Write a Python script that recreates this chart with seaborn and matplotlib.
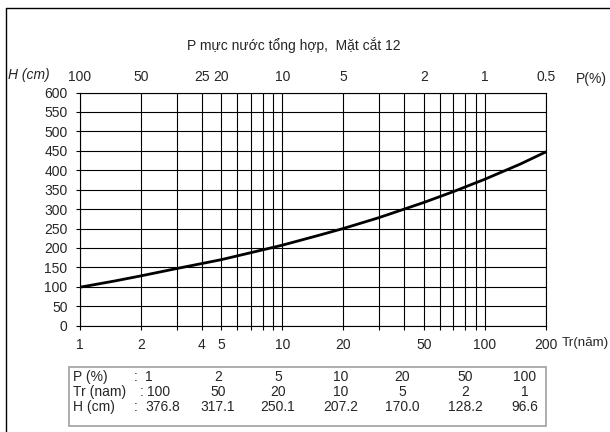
import matplotlib
matplotlib.use("Agg")
import matplotlib.pyplot as plt
import seaborn as sns
import numpy as np
from matplotlib.lines import Line2D
from matplotlib.patches import Rectangle

# ---- data ----
tr_curve = [1, 1.5, 2, 3, 5, 7, 10, 15, 20, 30, 50, 70, 100, 150, 200]
h_curve = [99, 115.5, 128.2, 147, 170.0, 188, 207.2, 232, 250.1, 278, 317.1, 345, 376.8, 416, 447]

tr_bottom_ticks = [1, 2, 4, 5, 10, 20, 50, 100, 200]
tr_bottom_labels = ["1", "2", "4", "5", "10", "20", "50", "100", "200"]
tr_minor = [3, 6, 7, 8, 9, 30, 40, 60, 70, 80, 90]
p_top_labels = ["100", "50", "25", "20", "10", "5", "2", "1", "0.5"]
y_ticks = list(range(0, 601, 50))

table_p = ["1", "2", "5", "10", "20", "50", "100"]
table_tr = ["100", "50", "20", "10", "5", "2", "1"]
table_h = ["376.8", "317.1", "250.1", "207.2", "170.0", "128.2", "96.6"]

title = "P mực nước tổng hợp,  Mặt cắt 12"

# ---- style ----
sns.set_style("white")
plt.rcParams["font.family"] = ["Liberation Sans", "DejaVu Sans"]
FS = 10

W, H = 610, 432
fig = plt.figure(figsize=(W / 100, H / 100), dpi=100)
fig.patch.set_facecolor("white")

def fx(px):
    return px / W

def fy(py):
    return 1 - py / H

x0, x1, yt, yb = 80, 545.7, 92.5, 325.7
ax = fig.add_axes([fx(x0), fy(yb), fx(x1 - x0), (yb - yt) / H])

sns.lineplot(x=tr_curve, y=h_curve, color="black", lw=2.0, ax=ax, zorder=5)

ax.set_xscale("log")
ax.set_xlim(1, 200)
ax.set_ylim(0, 600)
ax.set_xticks(tr_bottom_ticks)
ax.set_xticklabels(tr_bottom_labels, fontsize=FS)
ax.set_xticks(tr_minor, minor=True)
ax.set_xticklabels([], minor=True)
ax.set_yticks(y_ticks)
ax.set_yticklabels([str(v) for v in y_ticks], fontsize=FS)
ax.tick_params(axis="x", which="both", direction="out", length=3, width=0.8,
               color="black", pad=6.0, bottom=True)
ax.tick_params(axis="y", direction="out", length=3, width=0.8, color="black",
               pad=6.0, left=True)
ax.grid(True, which="both", axis="x", color="black", lw=0.8)
ax.grid(True, which="major", axis="y", color="black", lw=0.8)
for s in ax.spines.values():
    s.set_visible(True)
    s.set_color("black")
    s.set_linewidth(0.8)
ax.set_xlabel("")
ax.set_ylabel("")

# top P(%) labels
ax2 = ax.twiny()
ax2.set_xscale("log")
ax2.set_xlim(1, 200)
ax2.set_xticks(tr_bottom_ticks)
ax2.set_xticklabels(p_top_labels, fontsize=FS)
ax2.set_xticks([], minor=True)
ax2.tick_params(axis="x", length=0, pad=6)
for s in ax2.spines.values():
    s.set_visible(False)

# texts
fig.text(fx(294), fy(45), title, ha="center", va="center", fontsize=FS)
fig.text(fx(8), fy(75), "H (cm)", ha="left", va="center", fontsize=FS, style="italic")
fig.text(fx(576), fy(79), "P(%)", ha="left", va="center", fontsize=FS)
fig.text(fx(561.5), fy(343), "Tr(năm)", ha="left", va="center", fontsize=9.6)

# figure border (left & top)
fig.add_artist(Line2D([fx(6), fx(6)], [fy(8), 0], color="black", lw=1.0))
fig.add_artist(Line2D([fx(6), 1], [fy(8), fy(8)], color="black", lw=1.0))

# table box
bx0, bx1, by0, by1 = 68.5, 546, 366.5, 425.5
fig.add_artist(Rectangle((fx(bx0), fy(by1)), fx(bx1 - bx0), (by1 - by0) / H,
                         fill=False, edgecolor="#a0a0a0", lw=1.2))
rows_y = [377, 392, 407]
row_labels = ["P (%)", "Tr (nam)", "H (cm)"]
colon_x = [136, 142, 136]
first_x = [149, 159, 163]
col_x = [218, 278, 341, 402, 465, 525]
for ry, lab, cx, fxv, vals in zip(rows_y, row_labels, colon_x, first_x,
                                   [table_p, table_tr, table_h]):
    fig.text(fx(73), fy(ry), lab, ha="left", va="center", fontsize=FS)
    fig.text(fx(cx), fy(ry), ":", ha="center", va="center", fontsize=FS)
    fig.text(fx(fxv), fy(ry), vals[0], ha="center", va="center", fontsize=FS)
    for xv, v in zip(col_x, vals[1:]):
        fig.text(fx(xv), fy(ry), v, ha="center", va="center", fontsize=FS)

fig.savefig("out.png", dpi=100, facecolor="white")
